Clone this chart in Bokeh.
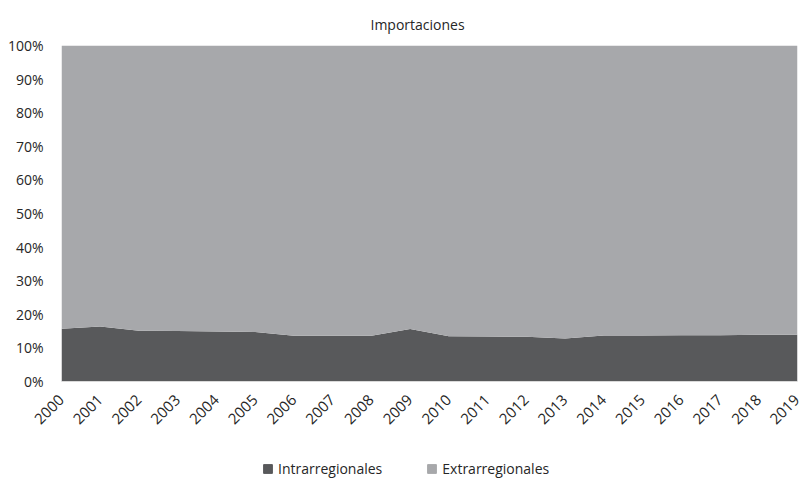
from math import pi
from bokeh.plotting import figure
from bokeh.layouts import column
from bokeh.models import Range1d, FixedTicker, Legend, LegendItem, CustomJSTickFormatter
from bokeh.embed import file_html
from bokeh.resources import INLINE

years = list(range(2000, 2020))
intra = [15.7, 16.4, 15.1, 15.0, 14.9, 14.7, 13.6, 13.6, 13.6, 15.6,
         13.5, 13.4, 13.3, 12.8, 13.7, 13.7, 13.8, 13.8, 13.9, 13.9]
extra = [100 - v for v in intra]
y_ticks = list(range(0, 101, 10))
series_names = ["Intrarregionales", "Extrarregionales"]
colors = ["#58595b", "#a7a8ab"]

FONT = "Open Sans"
TXT = "#262626"

p = figure(width=800, height=440, output_backend="svg", toolbar_location=None,
           x_range=Range1d(2000, 2019), y_range=Range1d(0, 100),
           min_border_left=61, min_border_right=3, min_border_top=45, min_border_bottom=59)
p.title.text = "Importaciones"
p.title.align = "left"
p.title.offset = 309
p.title.standoff = 24
p.title.text_font = FONT
p.title.text_font_size = "14px"
p.title.text_font_style = "normal"
p.title.text_color = TXT

src = dict(year=years, intra=intra, extra=extra)
r = p.varea_stack(["intra", "extra"], x="year", source=src, color=colors)

p.outline_line_color = None
p.grid.grid_line_color = None

p.xaxis.ticker = FixedTicker(ticks=years)
p.xaxis.major_label_orientation = pi / 4
p.xaxis.major_tick_out = 0
p.xaxis.major_tick_in = 0
p.xaxis.minor_tick_out = 0
p.xaxis.minor_tick_in = 0
p.xaxis.axis_line_color = "#d9d9d9"
p.xaxis.major_label_standoff = 16
p.xaxis.major_label_text_font = FONT
p.xaxis.major_label_text_font_size = "15px"
p.xaxis.major_label_text_color = TXT

p.yaxis.ticker = FixedTicker(ticks=y_ticks)
p.yaxis.formatter = CustomJSTickFormatter(code="return tick + '%';")
p.yaxis.axis_line_color = None
p.yaxis.major_tick_out = 0
p.yaxis.major_tick_in = 0
p.yaxis.minor_tick_out = 0
p.yaxis.minor_tick_in = 0
p.yaxis.major_label_standoff = 18
p.yaxis.major_label_text_font = FONT
p.yaxis.major_label_text_font_size = "14px"
p.yaxis.major_label_text_color = TXT

# legend strip below the chart (its frame is aligned with the chart's frame)
lg = figure(width=800, height=39, output_backend="svg", toolbar_location=None,
            x_range=Range1d(0, 1), y_range=Range1d(0, 1),
            x_axis_location=None, y_axis_location=None,
            min_border_left=0, min_border_right=0, min_border_top=0, min_border_bottom=0)
lg.outline_line_color = None
lg.grid.grid_line_color = None
nan = float("nan")
dummy = [lg.rect(x=[nan], y=[nan], width=1, height=1, fill_color=c, line_color=c)
         for c in colors]
legend = Legend(items=[LegendItem(label=n, renderers=[d]) for n, d in zip(series_names, dummy)],
                orientation="horizontal", location=(201, 1),
                label_text_font=FONT, label_text_font_size="14px", label_text_color=TXT,
                glyph_width=11, glyph_height=11, spacing=44, label_standoff=5,
                border_line_color=None, background_fill_alpha=0,
                margin=0, padding=0)
lg.add_layout(legend, "center")

layout = column(p, lg, spacing=0)
open("out.html", "w").write(file_html(layout, INLINE))
